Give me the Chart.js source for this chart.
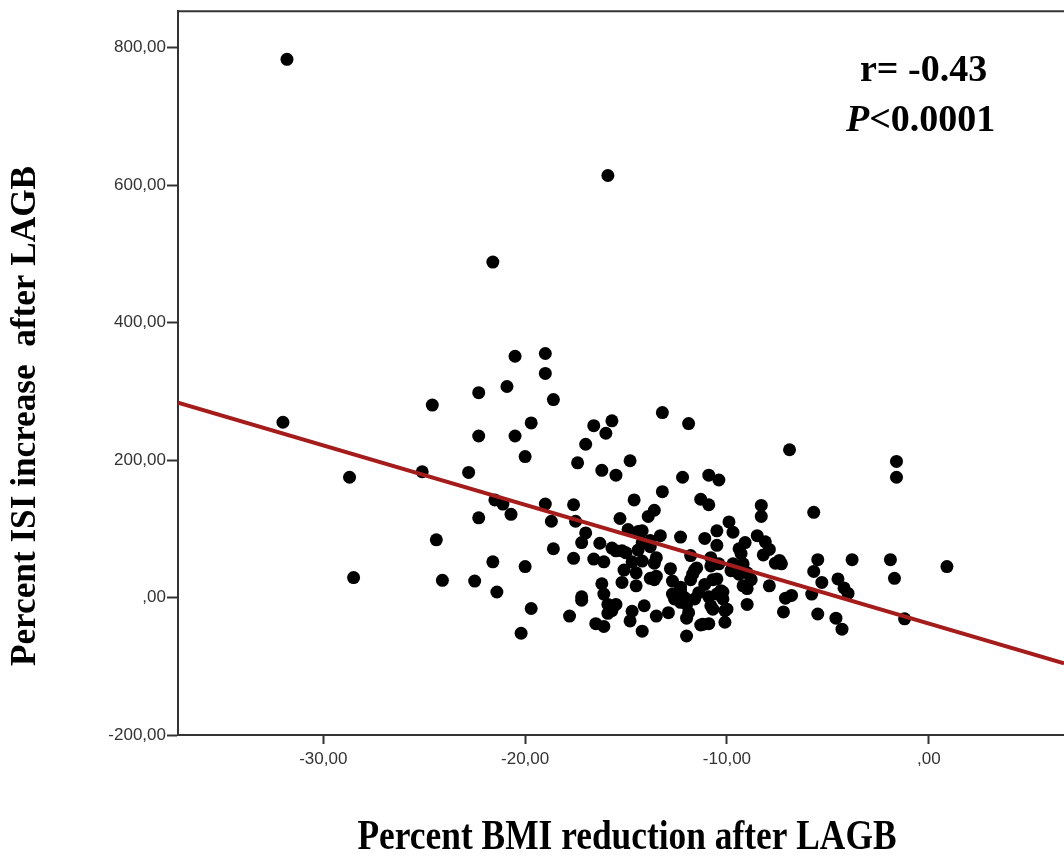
<!DOCTYPE html>
<html>
<head>
<meta charset="utf-8">
<script src="https://cdn.jsdelivr.net/npm/chart.js@4.4.0/dist/chart.umd.min.js"></script>
<style>
  html, body { margin: 0; padding: 0; background: #fff; }
  #wrap { width: 1064px; height: 858px; }
</style>
</head>
<body>
<div id="wrap"><canvas id="scatter" width="1064" height="858"></canvas></div>
<script>
// values (x = % BMI reduction, y = % ISI increase)
const bmiReduction = [
  -31.8, -15.9, -21.6, -20.5, -19.0, -19.0, -20.9, -22.3, -24.6, -18.6,
  -32.0, -22.3, -19.7, -20.5, -20.0, -16.6, -15.7, -16.0, -17.0, -13.2,
  -11.9, -6.9, -17.4, -14.8, -16.2, -15.5, -28.7, -25.1, -22.8, -1.6,
  -1.6, -12.2, -10.9, -10.4, -13.2, -11.3, -10.9, -14.6, -13.6, -13.9,
  -21.5, -21.1, -20.7, -22.3, -19.0, -17.6, -18.7, -17.5, -15.3, -8.3,
  -8.3, -5.7, -9.9, -9.7, -10.5, -11.1, -10.5, -8.5, -9.1, -8.1,
  -7.9, -7.4, -9.3, -9.7, -10.8, -11.8, -12.3, -13.3, -14.2, -14.9,
  -17.0, -17.2, -16.3, -15.7, -15.0, -14.4, -13.8, -13.5, -14.2, -16.6,
  -16.1, -17.6, -18.6, -24.4, -21.6, -20.0, -28.5, -24.1, -22.5, -21.4,
  -19.7, -20.2, -17.8, -17.2, -17.2, -16.2, -16.1, -15.9, -15.5, -15.9,
  -16.5, -16.1, -14.8, -14.7, -14.1, -14.2, -13.5, -12.9, -12.7, -12.7,
  -12.8, -13.5, -14.5, -15.2, -14.5, -15.1, -15.5, -12.6, -12.3, -12.0,
  -11.9, -12.0, -11.3, -10.9, -11.6, -11.8, -11.6, -11.1, -10.9, -10.7,
  -10.0, -10.1, -10.5, -10.2, -10.7, -10.4, -9.6, -9.0, -8.8, -9.0,
  -9.0, -7.9, -8.2, -7.6, -7.3, -7.2, -7.1, -6.8, -5.8, -5.7,
  -5.5, -5.3, -5.5, -4.6, -4.3, -4.5, -4.2, -3.8, -4.0, -1.9,
  -1.7, -1.2, 0.9, -13.8, -13.6, -13.6, -12.3, -11.5, -11.7, -10.8,
  -10.5, -11.4, -10.3, -10.2, -10.8, -10.1, -9.2, -9.8, -9.4, -9.2,
  -9.4, -11.2, -14.4, -15.2, -14.2, -14.7, -13.8, -15.7, -15.7, -12.3,
  -12.1, -12.0
];
const isiIncrease = [
  783, 614, 488, 351, 355, 326, 307, 298, 280, 288,
  255, 235, 254, 235, 205, 250, 257, 239, 223, 269,
  253, 215, 196, 199, 185, 178, 175, 183, 182, 198,
  175, 175, 178, 171, 154, 143, 135, 142, 127, 118,
  142, 136, 121, 116, 136, 135, 111, 111, 115, 134,
  118, 124, 110, 95, 97, 86, 76, 90, 80, 81,
  70, 54, 64, 49, 58, 61, 88, 90, 97, 99,
  94, 80, 79, 72, 65, 69, 74, 58, 53, 56,
  52, 57, 71, 84, 52, 45, 29, 25, 24, 8,
  -16, -52, -27, 1, -4, 20, 5, -10, -10, -23,
  -38, -42, -34, -20, -12, -49, -27, -22, 24, 5,
  42, 31, 36, 22, 17, 40, 68, -2, -7, -10,
  -22, -56, -40, -38, -2, 26, 40, 19, 1, -17,
  -17, -36, 5, 8, 26, 49, 42, 36, 26, 13,
  -10, 17, 62, 50, 49, -21, -1, 3, 5, 38,
  55, 22, -24, -30, -46, 27, 14, 55, 6, 55,
  28, -31, 45, 83, 50, 26, 15, 43, 34, 46,
  27, 7, 10, -2, -12, -19, 49, 39, 34, 17,
  71, -39, 96, 68, 80, 52, 28, -15, -19, 10,
  0, -30
];

const xTicks = [-30, -20, -10, 0];
const yTicks = [-200, 0, 200, 400, 600, 800];
const xMin = -37.2, xMax = 6.7;
const yMin = -200, yMax = 853;

// fit line as printed on the figure
const fitSlope = -8.64;
const fitIntercept = -37.9;

const xTitle = "Percent BMI reduction after LAGB";
const yTitle = "Percent ISI increase  after LAGB";
const rText = "r= -0.43";
const pText = "<0.0001";

function fmtTick(v) {
  if (v === 0) return ",00";
  return v.toFixed(2).replace(".", ",");
}

const points = bmiReduction.map((x, i) => ({ x: x, y: isiIncrease[i] }));
const fitLine = [xMin, xMax].map(x => ({ x: x, y: fitIntercept + fitSlope * x }));

// squeezes a text horizontally so it spans the given width
function drawFitted(ctx, text, font, width) {
  ctx.font = font;
  const w = ctx.measureText(text).width;
  ctx.save();
  ctx.scale(width / w, 1);
  ctx.fillText(text, 0, 0);
  ctx.restore();
}

const extras = {
  id: "extras",
  afterDraw(chart) {
    const ctx = chart.ctx;
    const area = chart.chartArea;

    // top edge of the frame
    ctx.save();
    ctx.strokeStyle = "#333";
    ctx.lineWidth = 2;
    ctx.beginPath();
    ctx.moveTo(area.left, area.top);
    ctx.lineTo(area.right, area.top);
    ctx.stroke();
    ctx.restore();

    ctx.save();
    ctx.fillStyle = "#000";
    ctx.textAlign = "center";
    ctx.textBaseline = "middle";

    // x axis title
    ctx.save();
    ctx.translate(627, 838);
    drawFitted(ctx, xTitle, "bold 42px 'Liberation Serif'", 539);
    ctx.restore();

    // y axis title
    ctx.save();
    ctx.translate(26, 416);
    ctx.rotate(-Math.PI / 2);
    drawFitted(ctx, yTitle, "bold 36px 'Liberation Serif'", 500);
    ctx.restore();

    // stats text
    ctx.textAlign = "left";
    ctx.textBaseline = "alphabetic";
    ctx.font = "bold 38px 'Liberation Serif'";
    ctx.fillText(rText, 860, 81);
    ctx.font = "italic bold 38px 'Liberation Serif'";
    ctx.fillText("P", 846, 131);
    const pw = ctx.measureText("P").width;
    ctx.font = "bold 38px 'Liberation Serif'";
    ctx.fillText(pText, 846 + pw, 131);
    ctx.restore();
  }
};

const tickFont = { family: "'Liberation Sans', Arial, sans-serif", size: 17 };

new Chart(document.getElementById("scatter"), {
  type: "scatter",
  data: {
    datasets: [
      {
        type: "line",
        data: fitLine,
        borderColor: "#a51c1c",
        borderWidth: 4,
        pointRadius: 0,
        fill: false,
        order: 0,
      },
      {
        data: points,
        backgroundColor: "#000",
        borderWidth: 0,
        pointRadius: 6.5,
        order: 1,
      },
    ],
  },
  options: {
    responsive: false,
    animation: false,
    devicePixelRatio: 1,
    layout: { autoPadding: false, padding: { top: 10, left: 0, right: 0, bottom: 0 } },
    plugins: {
      legend: { display: false },
      tooltip: { enabled: false },
    },
    scales: {
      x: {
        type: "linear",
        min: xMin,
        max: xMax,
        afterBuildTicks(scale) {
          scale.ticks = xTicks.map(v => ({ value: v }));
        },
        afterFit(scale) {
          scale.height = 123;
        },
        grid: { drawOnChartArea: false, tickLength: 9, tickColor: "#333", tickWidth: 2 },
        border: { color: "#333", width: 2 },
        ticks: { font: tickFont, color: "#333", padding: 5, autoSkip: false, maxRotation: 0, callback: fmtTick },
      },
      y: {
        type: "linear",
        min: yMin,
        max: yMax,
        afterBuildTicks(scale) {
          scale.ticks = yTicks.map(v => ({ value: v }));
        },
        afterFit(scale) {
          scale.width = 178;
        },
        grid: { drawOnChartArea: false, tickLength: 11, tickColor: "#333", tickWidth: 2 },
        border: { color: "#333", width: 2 },
        ticks: { font: tickFont, color: "#333", padding: 1, autoSkip: false, callback: fmtTick },
      },
    },
  },
  plugins: [extras],
});
</script>
</body>
</html>
